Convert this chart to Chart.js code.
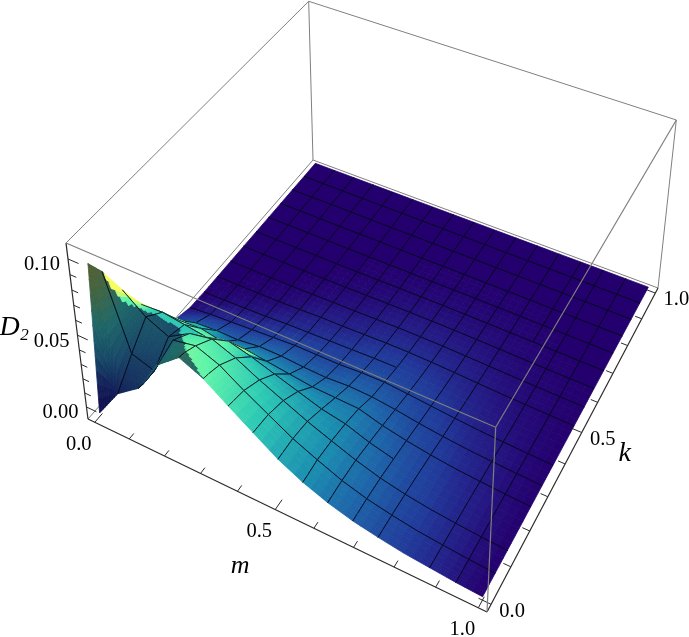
<!DOCTYPE html>
<html>
<head>
<meta charset="utf-8">
<style>
  html, body { margin: 0; padding: 0; background: #fff; }
  canvas { display: block; }
</style>
<script src="https://cdn.jsdelivr.net/npm/chart.js@4"></script>
</head>
<body>
<canvas id="surface" width="689" height="637"></canvas>
<script>
// grid of the plot
const mValues = [0, 0.0625, 0.125, 0.1875, 0.25, 0.3125, 0.375, 0.4375, 0.5, 0.5625, 0.625, 0.6875, 0.75, 0.8125, 0.875, 0.9375, 1];
const kValues = [0, 0.02, 0.0625, 0.125, 0.1875, 0.25, 0.3125, 0.375, 0.4375, 0.5, 0.5625, 0.625, 0.6875, 0.75, 0.8125, 0.875, 0.9375, 1];

// D2, one list per m value, along kValues
const d00 = [0, 0.098, 0.085, 0.061, 0.039, 0.018, 0.004, 0.0005, 0, 0, 0, 0, 0, 0, 0, 0, 0, 0];
const d01 = [0.021, 0.026, 0.036, 0.049, 0.040, 0.022, 0.008, 0.002, 0.0005, 0, 0, 0, 0, 0, 0, 0, 0, 0];
const d02 = [0.032, 0.031, 0.031, 0.042, 0.038, 0.023, 0.009, 0.003, 0.001, 0.0002, 0, 0, 0, 0, 0, 0, 0, 0];
const d03 = [0.055, 0.056, 0.059, 0.051, 0.036, 0.020, 0.009, 0.004, 0.0015, 0.0005, 0.0001, 0, 0, 0, 0, 0, 0, 0];
const d04 = [0.067, 0.066, 0.062, 0.054, 0.040, 0.022, 0.011, 0.005, 0.0025, 0.001, 0.0004, 0.0001, 0, 0, 0, 0, 0, 0];
const d05 = [0.060, 0.059, 0.056, 0.048, 0.036, 0.020, 0.011, 0.006, 0.003, 0.0018, 0.0008, 0.0003, 0.0001, 0, 0, 0, 0, 0];
const d06 = [0.049, 0.048, 0.046, 0.040, 0.031, 0.018, 0.010, 0.006, 0.0035, 0.002, 0.001, 0.0005, 0.0002, 0.0001, 0, 0, 0, 0];
const d07 = [0.0385, 0.038, 0.037, 0.033, 0.026, 0.016, 0.0095, 0.006, 0.004, 0.0025, 0.0014, 0.0008, 0.0004, 0.0001, 0, 0, 0, 0];
const d08 = [0.028, 0.028, 0.028, 0.026, 0.021, 0.0155, 0.0105, 0.007, 0.0046, 0.003, 0.0018, 0.001, 0.0005, 0.0002, 0.0001, 0, 0, 0];
const d09 = [0.020, 0.0202, 0.021, 0.020, 0.018, 0.015, 0.010, 0.0072, 0.0048, 0.0031, 0.0019, 0.0011, 0.0006, 0.0002, 0.0001, 0, 0, 0];
const d10 = [0.014, 0.0142, 0.0145, 0.0142, 0.0125, 0.0105, 0.0082, 0.006, 0.0042, 0.0028, 0.0018, 0.0011, 0.0006, 0.0002, 0.0001, 0, 0, 0];
const d11 = [0.0095, 0.0096, 0.0098, 0.0095, 0.0085, 0.0073, 0.0058, 0.0045, 0.0033, 0.0023, 0.0015, 0.0009, 0.0005, 0.0002, 0.0001, 0, 0, 0];
const d12 = [0.0065, 0.0065, 0.0066, 0.0062, 0.0056, 0.0048, 0.0039, 0.0031, 0.0023, 0.0016, 0.0011, 0.0007, 0.0004, 0.0002, 0.0001, 0, 0, 0];
const d13 = [0.004, 0.004, 0.004, 0.0038, 0.0034, 0.0029, 0.0024, 0.0019, 0.0014, 0.001, 0.0007, 0.0004, 0.0003, 0.0001, 0, 0, 0, 0];
const d14 = [0.0025, 0.0025, 0.0024, 0.0022, 0.002, 0.0017, 0.0014, 0.0011, 0.0008, 0.0006, 0.0004, 0.0002, 0.0001, 0, 0, 0, 0, 0];
const d15 = [0.001, 0.001, 0.001, 0.0009, 0.0008, 0.0007, 0.0006, 0.0005, 0.0004, 0.0003, 0.0002, 0.0001, 0, 0, 0, 0, 0, 0];
const d16 = [0, 0, 0, 0, 0, 0, 0, 0, 0, 0, 0, 0, 0, 0, 0, 0, 0, 0];
const surfaceRows = [d00, d01, d02, d03, d04, d05, d06, d07, d08, d09, d10, d11, d12, d13, d14, d15, d16];

// k of the crest for each m, the side in front of it lies in shadow
const crestK = [0.0625, 0.16, 0.17, 0.1, 0.03, 0, 0, 0, 0, 0, 0, 0, 0, 0, 0, 0, 0];

// mesh lines the original leaves out
const missingMLine = [0.8125];
const missingMLineUpToK = [0.7];
const missingKLine = [0.1875, 0.4375];
const missingKLineFromM = [0.7, 0.6];

// ticks and labels
const mTicks = [0, 0.1, 0.2, 0.3, 0.4, 0.5, 0.6, 0.7, 0.8, 0.9, 1];
const kTicks = [0, 0.1, 0.2, 0.3, 0.4, 0.5, 0.6, 0.7, 0.8, 0.9, 1];
const zTicks = [0, 0.01, 0.02, 0.03, 0.04, 0.05, 0.06, 0.07, 0.08, 0.09, 0.1];
const mLabels = ["0.0", "0.5", "1.0"];
const kLabels = ["0.0", "0.5", "1.0"];
const zLabels = ["0.00", "0.05", "0.10"];

// colour against height, lit side and shadow side
const paletteZ = [0, 0.0015, 0.004, 0.01, 0.02, 0.0385, 0.06, 0.08, 0.105];
const paletteRGB = [[36, 0, 110], [36, 26, 132], [33, 58, 154], [30, 98, 168], [27, 142, 176], [44, 200, 181], [96, 245, 168], [176, 251, 136], [248, 252, 96]];
const shadowRGB = [[16, 10, 70], [16, 12, 72], [17, 16, 78], [18, 20, 82], [20, 30, 88], [24, 72, 104], [30, 104, 104], [66, 100, 64], [92, 92, 44]];

const boxColor = "#7f7f7f";
const axisColor = "#2b2b2b";
const meshColor = "rgba(5,5,25,0.85)";

// camera, (u,v,w) box coordinates to homogeneous screen coordinates
const camX = [342.48, 292.0, -26.55, 88];
const camY = [121.97, -224.75, -192.77, 419];
const camW = [-0.11606, 0.21405, -0.069, 1];

function boxPoint(u, v, w) {
  const h = camW[0] * u + camW[1] * v + camW[2] * w + camW[3];
  return {
    x: (camX[0] * u + camX[1] * v + camX[2] * w + camX[3]) / h,
    y: (camY[0] * u + camY[1] * v + camY[2] * w + camY[3]) / h,
    depth: h
  };
}
const padU = (t) => (t + 0.02) / 1.04;
const tickW = (z) => 0.073 + 8.42 * z;
const surfW = (z) => 0.02 + 8.42 * z;
const plotPoint = (m, k, z) => boxPoint(padU(m), padU(k), surfW(z));

function colorFor(z, palette) {
  let i = 0;
  while (i < paletteZ.length - 2 && z > paletteZ[i + 1]) i++;
  const t = Math.min(1, (z - paletteZ[i]) / (paletteZ[i + 1] - paletteZ[i]));
  const c = palette[i].map((a, n) => Math.round(a + (palette[i + 1][n] - a) * t));
  return `rgb(${c[0]},${c[1]},${c[2]})`;
}

const layers = [];
function addLine(points, color, width) {
  layers.push({
    data: points.map((p) => ({ x: p.x, y: p.y })),
    showLine: true, fill: false, pointRadius: 0, borderColor: color, borderWidth: width
  });
}

function boxEdge(a, b, color, width) {
  addLine([boxPoint(a[0], a[1], a[2]), boxPoint(b[0], b[1], b[2])], color, width);
}

// floor of the box and the axes go under the surface
boxEdge([0, 0, 0], [0, 1, 0], boxColor, 1);
boxEdge([0, 1, 0], [1, 1, 0], boxColor, 1);
boxEdge([0, 1, 0], [0, 1, 1], boxColor, 1);
boxEdge([1, 1, 0], [1, 1, 1], boxColor, 1);
boxEdge([0, 0, 0], [1, 0, 0], axisColor, 1.2);
boxEdge([1, 0, 0], [1, 1, 0], axisColor, 1.2);
boxEdge([0, 0, 0], [0, 0, 1], axisColor, 1.2);
mTicks.forEach((t, i) => {
  const len = i % 5 === 0 ? 0.028 : 0.017;
  boxEdge([padU(t), 0, 0], [padU(t), len, 0], axisColor, 1);
});
kTicks.forEach((t, i) => {
  const len = i % 5 === 0 ? 0.028 : 0.017;
  boxEdge([1, padU(t), 0], [1 - len, padU(t), 0], axisColor, 1);
});
zTicks.forEach((t, i) => {
  const len = i % 5 === 0 ? 0.028 : 0.017;
  boxEdge([0, 0, tickW(t)], [len, 0, tickW(t)], axisColor, 1);
});

function crestAt(m) {
  const s = Math.min(mValues.length - 2, Math.floor(m * 16));
  const t = m * 16 - s;
  return crestK[s] + (crestK[s + 1] - crestK[s]) * t;
}

function mLineShown(m, kTop) {
  const n = missingMLine.indexOf(m);
  return n < 0 || kTop > missingMLineUpToK[n];
}
function kLineShown(k, mTop) {
  const n = missingKLine.indexOf(k);
  return n < 0 || mTop <= missingKLineFromM[n];
}

// surface cells, far ones first so nearer ones paint over them
const cells = [];
for (let i = 0; i < mValues.length - 1; i++) {
  for (let j = 0; j < kValues.length - 1; j++) {
    const c = plotPoint((mValues[i] + mValues[i + 1]) / 2, (kValues[j] + kValues[j + 1]) / 2, (surfaceRows[i][j] + surfaceRows[i + 1][j + 1]) / 2);
    cells.push({ i, j, depth: c.depth });
  }
}
cells.sort((a, b) => b.depth - a.depth);

cells.forEach(({ i, j }) => {
  const m0 = mValues[i], m1 = mValues[i + 1], k0 = kValues[j], k1 = kValues[j + 1];
  const z00 = surfaceRows[i][j], z10 = surfaceRows[i + 1][j], z01 = surfaceRows[i][j + 1], z11 = surfaceRows[i + 1][j + 1];
  const flat = Math.max(z00, z10, z01, z11) < 0.0002;
  const steps = flat ? 1 : (i < 4 && j < 6 ? 10 : (i < 6 && j < 7 ? 6 : 3));
  const at = (a, b) => {
    const z = z00 * (1 - a) * (1 - b) + z10 * a * (1 - b) + z01 * (1 - a) * b + z11 * a * b;
    return { p: plotPoint(m0 + (m1 - m0) * a, k0 + (k1 - k0) * b, z), z };
  };
  for (let a = 0; a < steps; a++) {
    for (let b = 0; b < steps; b++) {
      const ca = (a + 0.5) / steps, cb = (b + 0.5) / steps;
      const q = [at(a / steps, b / steps), at((a + 1) / steps, b / steps), at((a + 1) / steps, (b + 1) / steps), at(a / steps, (b + 1) / steps)];
      const zMid = (q[0].z + q[1].z + q[2].z + q[3].z) / 4;
      const mMid = m0 + (m1 - m0) * ca;
      const kMid = k0 + (k1 - k0) * cb;
      const dzk = 8.42 * ((z01 - z00) * (1 - ca) + (z11 - z10) * ca) / (k1 - k0);
      const shaded = kMid < crestAt(mMid);
      // the steep back of the ridge looks paler than its height
      const glow = mMid < 0.3 ? 0.055 * Math.min(1, Math.max(0, (-dzk - 1.6) / 1)) : 0;
      const color = shaded ? colorFor(zMid, shadowRGB) : colorFor(zMid + glow, paletteRGB);
      layers.push({
        data: [q[0].p, q[1].p, q[2].p, q[3].p, q[0].p].map((p) => ({ x: p.x, y: p.y })),
        showLine: true, fill: "shape", backgroundColor: color,
        pointRadius: 0, borderColor: color, borderWidth: 0.8
      });
    }
  }
  // mesh lines, the k = 0.02 row only helps the shape near the peak
  const n00 = plotPoint(m0, k0, z00), n10 = plotPoint(m1, k0, z10), n01 = plotPoint(m0, k1, z01), n11 = plotPoint(m1, k1, z11);
  if (i > 0 && mLineShown(m0, k1)) addLine([n00, n01], meshColor, 1);
  if (i < mValues.length - 2 && mLineShown(m1, k1)) addLine([n10, n11], meshColor, 1);
  if (j > 0 && k0 !== 0.02 && kLineShown(k0, m1)) addLine([n00, n10], meshColor, 1);
  if (j < kValues.length - 2 && k1 !== 0.02 && kLineShown(k1, m1)) addLine([n01, n11], meshColor, 1);
});

// rest of the box runs in front of the surface
boxEdge([0, 0, 1], [1, 0, 1], boxColor, 1.2);
boxEdge([1, 0, 0], [1, 0, 1], boxColor, 1.2);
boxEdge([1, 0, 1], [1, 1, 1], boxColor, 1.2);
boxEdge([0, 0, 1], [0, 1, 1], boxColor, 1);
boxEdge([0, 1, 1], [1, 1, 1], boxColor, 1);

const labelsPlugin = {
  id: "labels3d",
  afterDatasetsDraw(chart) {
    const { ctx, scales } = chart;
    const put = (text, p, dx, dy, font, align) => {
      ctx.font = font;
      ctx.textAlign = align || "center";
      ctx.textBaseline = "middle";
      ctx.fillStyle = "#000";
      ctx.fillText(text, scales.x.getPixelForValue(p.x) + dx, scales.y.getPixelForValue(p.y) + dy);
    };
    const tickFont = '20.5px "Liberation Serif"';
    const nameFont = 'italic 26px "Liberation Serif"';
    mLabels.forEach((t) => put(t, boxPoint(padU(+t), 0, 0), -16, 22, tickFont));
    kLabels.forEach((t) => put(t, boxPoint(1, padU(+t), 0), 21, 7, tickFont));
    zLabels.forEach((t) => put(t, boxPoint(0, 0, tickW(+t)), -8, 6, tickFont, "right"));
    // axis names sit next to the middle of their axis
    put("m", boxPoint(padU(0.5), 0, 0), -35, 57, nameFont);
    put("k", boxPoint(1, padU(0.5), 0), 43, 21, 'italic 28px "Liberation Serif"');
    put("D", boxPoint(0, 0, tickW(0.05)), -68, -8, 'italic 28px "Liberation Serif"');
    put("2", boxPoint(0, 0, tickW(0.05)), -53, 0, 'italic 17px "Liberation Serif"');
  }
};

// chart.js paints the first dataset last
new Chart(document.getElementById("surface").getContext("2d"), {
  type: "scatter",
  data: { datasets: layers.reverse() },
  options: {
    responsive: false,
    animation: false,
    events: [],
    layout: { padding: 0 },
    plugins: { legend: { display: false }, tooltip: { enabled: false } },
    scales: {
      x: { type: "linear", min: 0, max: 689, display: false },
      y: { type: "linear", min: 0, max: 637, reverse: true, display: false }
    }
  },
  plugins: [labelsPlugin]
});
</script>
</body>
</html>
